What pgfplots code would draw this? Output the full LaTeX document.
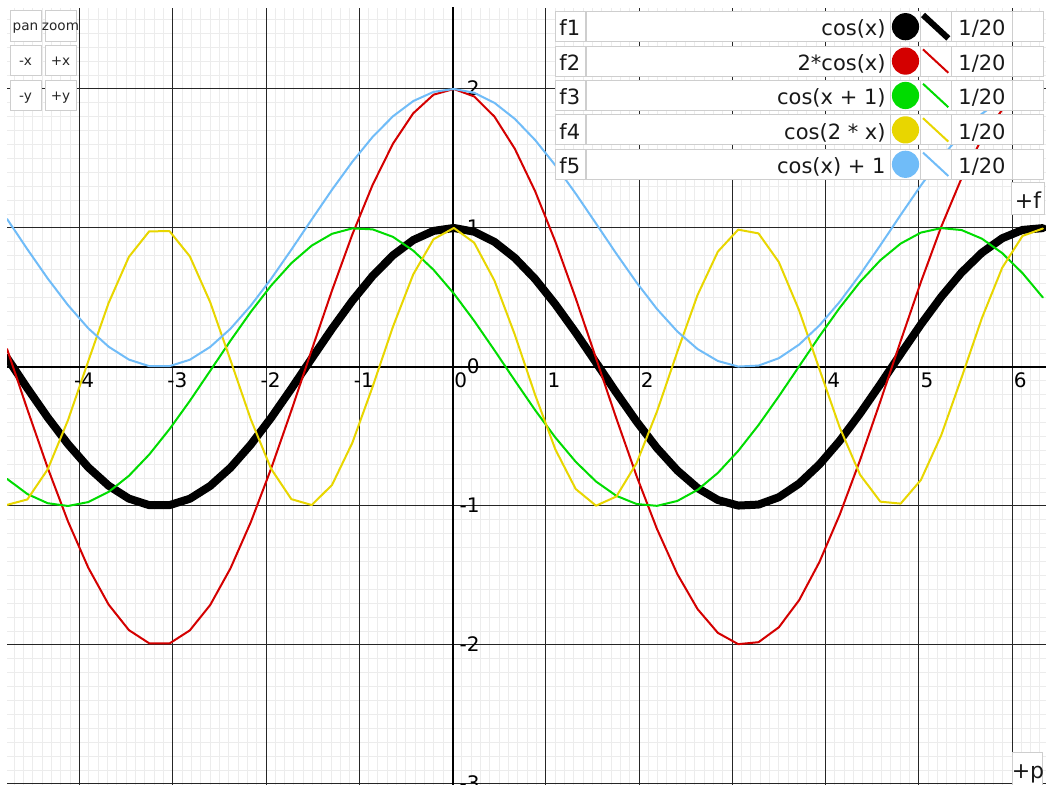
\documentclass[border=0pt]{standalone}
\usepackage{fontspec}
\setmainfont{DejaVu Sans}
\usepackage{pgfplots}
\usepackage{pgfplotstable}
\pgfplotsset{compat=1.18}

\definecolor{fred}{RGB}{212,0,0}
\definecolor{fgreen}{RGB}{0,220,0}
\definecolor{fyellow}{RGB}{232,214,0}
\definecolor{fblue}{RGB}{112,188,248}
\definecolor{cellborder}{RGB}{206,206,206}
\definecolor{minorgrid}{RGB}{236,236,236}

\tikzset{
  xl/.style={anchor=base west, inner sep=0pt, xshift=0.75pt, yshift=-10.25pt,
    font=\fontsize{10}{12}\selectfont},
  yl/.style={anchor=base west, inner sep=0pt, xshift=7pt, yshift=-3.5pt,
    font=\fontsize{10}{12}\selectfont},
}

% sampled curves: x, cos(x), 2*cos(x), cos(x+1), cos(2*x), cos(x)+1
\pgfplotstableread{
x c1 c2 c3 c4 c5
-4.7770 0.065 0.129 -0.805 -0.992 1.065
-4.5592 -0.153 -0.305 -0.914 -0.953 0.847
-4.3414 -0.363 -0.725 -0.980 -0.737 0.637
-4.1236 -0.555 -1.111 -1.000 -0.383 0.445
-3.9058 -0.722 -1.444 -0.972 0.042 0.278
-3.6880 -0.854 -1.709 -0.899 0.460 0.146
-3.4702 -0.947 -1.893 -0.783 0.792 0.053
-3.2524 -0.994 -1.988 -0.630 0.976 0.006
-3.0346 -0.994 -1.989 -0.447 0.977 0.006
-2.8168 -0.948 -1.895 -0.244 0.796 0.052
-2.5990 -0.856 -1.713 -0.028 0.467 0.144
-2.3812 -0.725 -1.449 0.189 0.050 0.275
-2.1634 -0.559 -1.117 0.396 -0.376 0.441
-1.9456 -0.366 -0.732 0.585 -0.732 0.634
-1.7278 -0.156 -0.313 0.747 -0.951 0.844
-1.5100 0.061 0.122 0.873 -0.993 1.061
-1.2922 0.275 0.550 0.958 -0.849 1.275
-1.0744 0.476 0.953 0.997 -0.546 1.476
-0.8566 0.655 1.310 0.990 -0.142 1.655
-0.6388 0.803 1.606 0.936 0.289 1.803
-0.4210 0.913 1.825 0.837 0.666 1.913
-0.2032 0.979 1.959 0.699 0.919 1.979
0.0146 1.000 2.000 0.528 1.000 2.000
0.2324 0.973 1.946 0.332 0.894 1.973
0.4502 0.900 1.801 0.120 0.621 1.900
0.6680 0.785 1.570 -0.097 0.233 1.785
0.8858 0.633 1.265 -0.310 -0.200 1.633
1.1036 0.450 0.901 -0.508 -0.594 1.450
1.3214 0.247 0.494 -0.682 -0.878 1.247
1.5392 0.032 0.063 -0.824 -0.998 1.032
1.7570 -0.185 -0.370 -0.927 -0.932 0.815
1.9748 -0.393 -0.786 -0.986 -0.691 0.607
2.1926 -0.583 -1.165 -0.999 -0.321 0.417
2.4104 -0.744 -1.489 -0.964 0.108 0.256
2.6282 -0.871 -1.742 -0.884 0.518 0.129
2.8460 -0.957 -1.913 -0.762 0.830 0.043
3.0638 -0.997 -1.994 -0.604 0.988 0.003
3.2816 -0.990 -1.980 -0.418 0.961 0.010
3.4994 -0.937 -1.873 -0.211 0.755 0.063
3.7172 -0.839 -1.678 0.005 0.407 0.161
3.9350 -0.701 -1.403 0.221 -0.016 0.299
4.1528 -0.531 -1.062 0.426 -0.436 0.469
4.3706 -0.335 -0.670 0.612 -0.775 0.665
4.5884 -0.124 -0.247 0.768 -0.969 0.876
4.8062 0.094 0.187 0.888 -0.983 1.094
5.0240 0.307 0.613 0.967 -0.812 1.307
5.2418 0.505 1.010 0.999 -0.490 1.505
5.4596 0.680 1.359 0.985 -0.076 1.680
5.6774 0.822 1.644 0.923 0.352 1.822
5.8952 0.926 1.851 0.819 0.714 1.926
6.1130 0.986 1.971 0.675 0.943 1.986
6.3308 0.999 1.998 0.500 0.996 1.999
}\curves

\begin{document}
\begin{tikzpicture}
\useasboundingbox (0,0) rectangle (523pt,392.5pt);
\fill[white] (0,0) rectangle (523pt,392.5pt);

\begin{axis}[
  at={(3.5pt,0pt)}, anchor=south west,
  scale only axis, width=519.5pt, height=388.5pt,
  xmin=-4.7775, xmax=6.3646, ymin=-3.0072, ymax=2.5827,
  axis line style={draw=none}, tick style={draw=none},
  major tick length=0pt, minor tick length=0pt,
  xtick={-4,...,6}, ytick={-3,...,2},
  xticklabels={}, yticklabels={},
  minor xtick={-4.7,-4.6,...,6.35},
  minor ytick={-3,-2.9,...,2.55},
  grid=both,
  major grid style={minorgrid, line width=0.5pt},
  minor grid style={minorgrid, line width=0.5pt},
  extra x ticks={-4,...,6}, extra y ticks={-3,...,2},
  extra x tick labels={}, extra y tick labels={},
  extra tick style={grid=major, major grid style={black!85, line width=0.5pt}},
  every axis plot/.append style={no markers, line join=round, line cap=round},
]
% coordinate axes
\draw[black, line width=1pt] (axis cs:-5,0) -- (axis cs:7,0);
\draw[black, line width=1pt] (axis cs:0,-3.2) -- (axis cs:0,2.7);

% tick labels along the axes
\node[xl] at (axis cs:-4,0) {\llap{-}4};
\node[xl] at (axis cs:-3,0) {\llap{-}3};
\node[xl] at (axis cs:-2,0) {\llap{-}2};
\node[xl] at (axis cs:-1,0) {\llap{-}1};
\node[xl] at (axis cs:0,0) {0};
\node[xl] at (axis cs:1,0) {1};
\node[xl] at (axis cs:2,0) {2};
\node[xl] at (axis cs:4,0) {4};
\node[xl] at (axis cs:5,0) {5};
\node[xl] at (axis cs:6,0) {6};
\node[yl] at (axis cs:0,2) {2};
\node[yl] at (axis cs:0,1) {1};
\node[yl] at (axis cs:0,0) {0};
\node[yl] at (axis cs:0,-1) {\llap{-}1};
\node[yl] at (axis cs:0,-2) {\llap{-}2};
\node[yl] at (axis cs:0,-3) {\llap{-}3};

\addplot[black, line width=4pt] table[x=x, y=c1] {\curves};
\addplot[fred, line width=1pt] table[x=x, y=c2] {\curves};
\addplot[fgreen, line width=1pt] table[x=x, y=c3] {\curves};
\addplot[fyellow, line width=1pt] table[x=x, y=c4] {\curves};
\addplot[fblue, line width=1pt] table[x=x, y=c5] {\curves};
\end{axis}

% controls and function list, in screen pixels (1px = 0.5pt, y downwards)
\begin{scope}[x=0.5pt, y=-0.5pt, yshift=392.5pt,
  cell/.style={fill=white, draw=cellborder, line width=0.5pt},
  btn/.style={anchor=base, inner sep=0pt, text=black!85, font=\fontsize{6.8}{8}\selectfont},
  ftxt/.style={inner sep=0pt, text=black!90, font=\fontsize{10.5}{12}\selectfont}]

  \draw[cell] (10,11) rectangle (41,41.7);   \node[btn] at (25.5,31) {pan};
  \draw[cell] (45,11) rectangle (76,41.7);   \node[btn] at (60.5,31) {zoom};
  \draw[cell] (10,46) rectangle (41,76);     \node[btn] at (25.5,66) {-x};
  \draw[cell] (45,46) rectangle (76,76);     \node[btn] at (60.5,66) {+x};
  \draw[cell] (10,80.3) rectangle (41,110.7);\node[btn] at (25.5,100.3) {-y};
  \draw[cell] (45,80.3) rectangle (76,110.7);\node[btn] at (60.5,100.3) {+y};

  \foreach \i/\lab/\expr/\col/\lw in {0/f1/{cos(x)}/black/3pt,
      1/f2/{2*cos(x)}/fred/1pt, 2/f3/{cos(x + 1)}/fgreen/1pt,
      3/f4/{cos(2 * x)}/fyellow/1pt, 4/f5/{cos(x) + 1}/fblue/1pt}{
    \pgfmathsetmacro\rtop{11.7+34.4*\i}
    \pgfmathsetmacro\rbot{\rtop+30}
    \draw[cell] (555,\rtop) rectangle (585,\rbot);
    \draw[cell] (586,\rtop) rectangle (890.5,\rbot);
    \draw[cell] (890.5,\rtop) rectangle (920,\rbot);
    \draw[cell] (920,\rtop) rectangle (951.5,\rbot);
    \draw[cell] (951.5,\rtop) rectangle (1012,\rbot);
    \draw[cell] (1012,\rtop) rectangle (1043,\rbot);
    \node[ftxt, anchor=base west] at (559,\rtop+24.3) {\lab};
    \node[ftxt, anchor=base east] at (886,\rtop+24.3) {\expr};
    \fill[\col] (905.5,\rtop+15) circle[radius=13.6];
    \draw[\col, line width=\lw] (923,\rtop+3.3) -- (948.3,\rtop+26.7);
    \node[ftxt, anchor=base] at (982,\rtop+24.3) {1/20};
  }

  \draw[cell] (1011.7,182.7) rectangle (1044,215);
  \node[ftxt, anchor=base, font=\fontsize{11}{13}\selectfont] at (1028,208.3) {+f};
  \draw[cell] (1012.7,752.3) rectangle (1042.7,800);
  \node[ftxt, anchor=base, font=\fontsize{11}{13}\selectfont] at (1028,779) {+p};
\end{scope}
\end{tikzpicture}
\end{document}
